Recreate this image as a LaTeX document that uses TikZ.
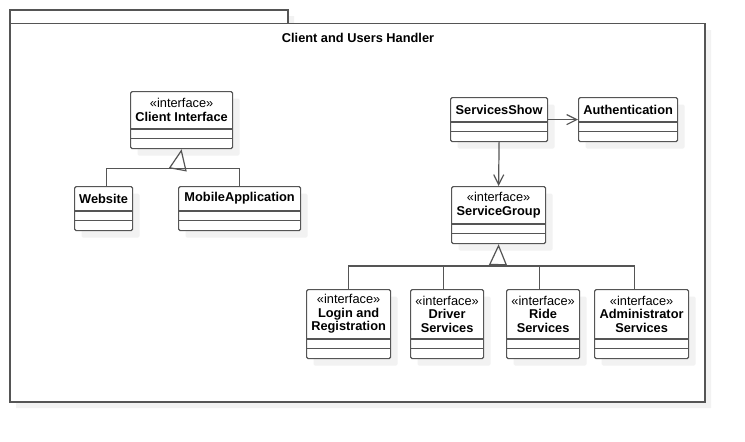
\documentclass[tikz,border=0pt]{standalone}
\usepackage{fontspec}
\setmainfont{Liberation Sans}
\usetikzlibrary{arrows.meta,calc,shadows}

\definecolor{umlline}{RGB}{85,85,85}
\definecolor{umlshadow}{RGB}{242,242,242}

\newcommand{\umlclass}[6]{%
	\node[cls, minimum width=#4, minimum height=#5+19, anchor=north west] (#1) at (#2,#3) {};
	\node[align=center] (#1-t) at ($(#1.north)+(0,#5/2)$) {#6};
	\draw[umlline, line width=1.2pt] ($(#1.north west)+(0,#5)$) -- ($(#1.north east)+(0,#5)$)
		($(#1.north west)+(0,#5+9.5)$) -- ($(#1.north east)+(0,#5+9.5)$);
}

\begin{document}
\begin{tikzpicture}[x=1pt, y=-1pt, font=\fontsize{12.8}{13.5}\selectfont,
		cls/.style={draw=umlline, line width=1.2pt, fill=white, rounded corners=1.5pt, inner sep=0pt,
			drop shadow={shadow xshift=7pt, shadow yshift=-7pt, fill=umlshadow, opacity=1}},
		assoc/.style={draw=umlline, line width=1.2pt},
		gen/.style={assoc, -{Triangle[open, length=21pt, width=18pt]}},
		dep/.style={assoc, -{Straight Barb[length=10pt, width=10pt]}}]
	\useasboundingbox (0,0) rectangle (745,442);
	\fill[umlshadow] (16,16) rectangle (294,30) (16,30) rectangle (711,408);
	\draw[assoc, fill=white] (10,10) rectangle (288,23.5);
	\draw[assoc, fill=white] (10,23.5) rectangle (705,402);
	\node (pkg-t) at (358,38) {\textbf{Client and Users Handler}};

	\umlclass{ci}{130}{91}{102}{38}{«interface»\\\textbf{Client Interface}}
	\umlclass{web}{74}{186}{58}{25}{\textbf{Website}}
	\umlclass{mob}{178}{186}{122}{25}{\textbf{MobileApplication}}
	\umlclass{ss}{450}{97}{97}{25}{\textbf{ServicesShow}}
	\umlclass{auth}{578}{97}{99}{25}{\textbf{Authentication}}
	\umlclass{sg}{451}{186}{94}{38}{«interface»\\\textbf{ServiceGroup}}
	\umlclass{login}{306}{289}{84}{50}{«interface»\\\textbf{Login and}\\\textbf{Registration}}
	\umlclass{drv}{410}{289}{73}{50}{«interface»\\\textbf{Driver}\\\textbf{Services}}
	\umlclass{ride}{506}{289}{73}{50}{«interface»\\\textbf{Ride}\\\textbf{Services}}
	\umlclass{adm}{594}{289}{94}{50}{«interface»\\\textbf{Administrator}\\\textbf{Services}}

	\coordinate (ci-j) at (178,168.5);
	\coordinate (sg-j) at (498,266);
	\draw[assoc] ([xshift=3pt]web.north) |- (ci-j) -| (mob.north);
	\draw[gen] (ci-j) -- (ci.south);
	\draw[assoc] (login.north) |- (sg-j) -| ([xshift=-7pt]adm.north);
	\path[assoc]
		([xshift=-4pt]drv.north) edge ([xshift=-4pt]drv.north |- sg-j)
		([xshift=-4pt]ride.north) edge ([xshift=-4pt]ride.north |- sg-j);
	\draw[gen] (sg-j) -- (sg.south);
	\draw[dep] (ss.east) -- (auth.west);
	\draw[dep] (ss.south) -- (sg.north);
\end{tikzpicture}
\end{document}
